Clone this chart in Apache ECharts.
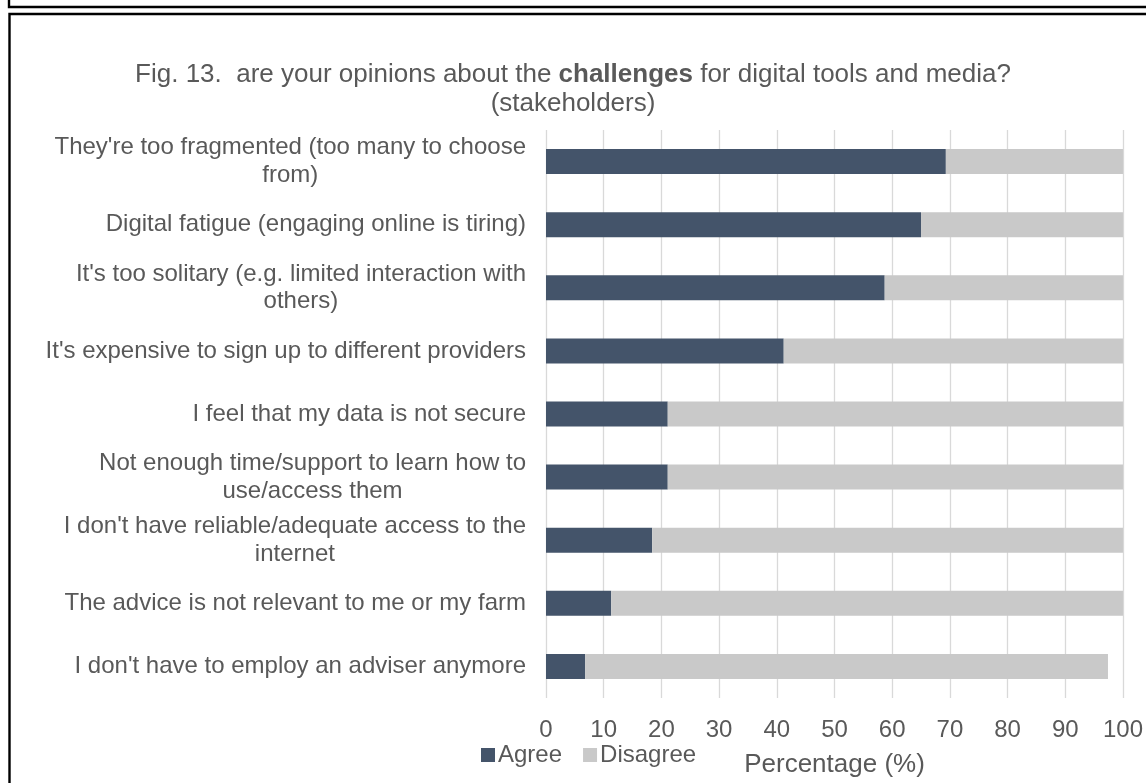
<!DOCTYPE html>
<html>
<head>
<meta charset="utf-8">
<script src="https://cdn.jsdelivr.net/npm/echarts@6/dist/echarts.min.js"></script>
<style>
html,body{margin:0;padding:0;background:#fff;}
#chart{width:1146px;height:783px;}
</style>
</head>
<body>
<div id="chart"></div>
<script>
// ---- data (top to bottom as shown) ----
var categories = [
  "They're too fragmented (too many to choose\nfrom)",
  "Digital fatigue (engaging online is tiring)",
  "It's too solitary (e.g. limited interaction with\nothers)",
  "It's expensive to sign up to different providers",
  "I feel that my data is not secure",
  "Not enough time/support to learn how to\nuse/access them",
  "I don't have reliable/adequate access to the\ninternet",
  "The advice is not relevant to me or my farm",
  "I don't have to employ an adviser anymore"
];
var agree    = [69.3, 65.0, 58.7, 41.2, 21.1, 21.1, 18.4, 11.3, 6.8];
var disagree = [30.7, 35.0, 41.3, 58.8, 78.9, 78.9, 81.6, 88.7, 90.6];
var seriesNames = ["Agree", "Disagree"];
var xTicks = [0, 10, 20, 30, 40, 50, 60, 70, 80, 90, 100];
var titleLine1a = "Fig. 13.  are your opinions about the ";
var titleBold = "challenges";
var titleLine1b = " for digital tools and media?";
var titleLine2 = "(stakeholders)";
var axisTitle = "Percentage (%)";

var FONT = "'Liberation Sans', Arial, sans-serif";
var TXT = "#595959";

var chart = echarts.init(document.getElementById('chart'));
chart.setOption({
  backgroundColor: '#fff',
  animation: false,
  title: {
    left: 'center',
    top: 60,
    padding: 0,
    text: '{n|' + titleLine1a + '}{b|' + titleBold + '}{n|' + titleLine1b + '}\n{n|' + titleLine2 + '}',
    textStyle: {
      fontFamily: FONT, fontSize: 26, fontWeight: 'normal', color: TXT, lineHeight: 29,
      rich: {
        n: {fontFamily: FONT, fontSize: 26, color: TXT, lineHeight: 29, align: 'center'},
        b: {fontFamily: FONT, fontSize: 26, color: TXT, fontWeight: 'bold', lineHeight: 29, align: 'center'}
      }
    }
  },
  legend: {
    left: 481,
    top: 743,
    padding: 0,
    itemWidth: 14,
    itemHeight: 14,
    itemGap: 21,
    icon: 'rect',
    data: seriesNames,
    textStyle: {fontFamily: FONT, fontSize: 24, color: TXT, padding: [0, 0, 0, -2]}
  },
  grid: {left: 546, right: 23, top: 130, bottom: 83.5, containLabel: false},
  xAxis: {
    type: 'value',
    min: xTicks[0],
    max: xTicks[xTicks.length - 1],
    interval: 10,
    name: axisTitle,
    nameLocation: 'middle',
    nameGap: 54,
    nameTextStyle: {fontFamily: FONT, fontSize: 26, color: TXT},
    axisLine: {show: false},
    axisTick: {show: false},
    axisLabel: {fontFamily: FONT, fontSize: 24, color: TXT, margin: 20},
    splitLine: {show: true, lineStyle: {color: '#D9D9D9', width: 1.3}}
  },
  yAxis: {
    type: 'category',
    inverse: true,
    data: categories,
    axisLine: {show: false},
    axisTick: {show: false},
    axisLabel: {
      margin: 20,
      align: 'right',
      formatter: function (v) {
        return v.split('\n').map(function (l) { return '{c|' + l + '}'; }).join('\n');
      },
      rich: {
        c: {fontFamily: FONT, fontSize: 24, color: TXT, lineHeight: 27.6, align: 'center'}
      }
    }
  },
  series: [
    {name: seriesNames[0], type: 'bar', stack: 'total', barWidth: 25, data: agree,
     itemStyle: {color: '#44546A'}},
    {name: seriesNames[1], type: 'bar', stack: 'total', barWidth: 25, data: disagree,
     itemStyle: {color: '#C9C9C9'}}
  ],
  graphic: [
    {type: 'rect', silent: true, shape: {x: 9, y: -20, width: 1200, height: 27},
     style: {fill: 'none', stroke: '#000', lineWidth: 2.4}},
    {type: 'rect', silent: true, shape: {x: 9.5, y: 14, width: 1200, height: 800},
     style: {fill: 'none', stroke: '#000', lineWidth: 2.4}}
  ]
});
</script>
</body>
</html>
